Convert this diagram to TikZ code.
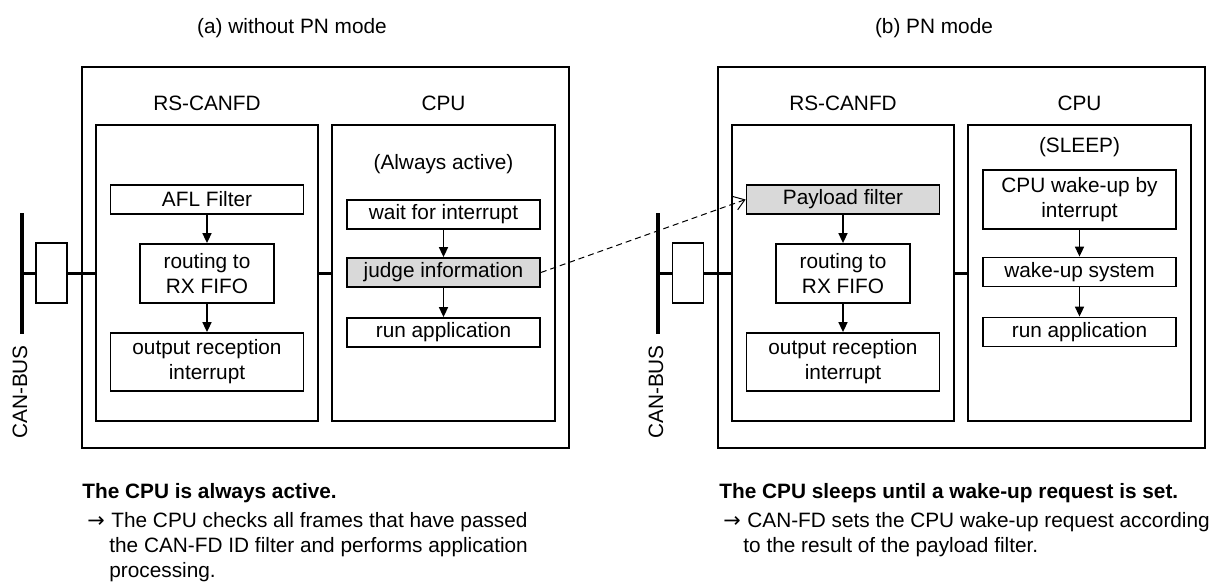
\documentclass[tikz,border=0pt]{standalone}
\usepackage{fontspec}
\setmainfont{Liberation Sans}
\newfontfamily\pnsym{DejaVu Sans}
\usetikzlibrary{arrows.meta}
\definecolor{pnink}{HTML}{000000}
\definecolor{pnshade}{HTML}{D9D9D9}
\newcommand\pnsize{\fontsize{10.4pt}{12.5pt}\selectfont}
\newcommand\pnarrow{{\pnsym →}}
\tikzset{
  frame/.style={rectangle,draw=pnink,line width=0.9pt,inner sep=0pt},
  blk/.style={rectangle,draw=pnink,line width=0.9pt,fill=white,inner sep=0pt,
              align=center,minimum width=96.5pt,minimum height=14.5pt},
  hot/.style={blk,fill=pnshade},
  xcvr/.style={rectangle,draw=pnink,line width=0.9pt,fill=white,
               minimum width=15.5pt,minimum height=30pt,inner sep=0pt},
  flow/.style={-{Triangle[length=5pt,width=4.5pt]},line width=0.8pt,draw=pnink},
  hint/.style={-{Straight Barb[length=5pt,width=7pt]},line width=0.5pt,
               dash pattern=on 3pt off 2pt,draw=pnink},
  bus/.style={line width=2pt,draw=pnink},
  tap/.style={line width=1.5pt,draw=pnink},
}

\begin{document}
\begin{tikzpicture}[x=0.5pt,y=-0.5pt,font=\pnsize,
  note/.style={anchor=north west,align=left,inner sep=0pt,font=\pnsize}]
  \useasboundingbox (0,0) rectangle (1211,585);
  % (a) without PN mode
  \node (titleA) at (292,28) {(a) without PN mode};
  \node[frame,minimum width=243.5pt,minimum height=190.5pt] (panelA) at (325.5,257.5) {};
  \node[frame,minimum width=111pt,minimum height=148pt] (rsA) at (207,273) {};
  \node[frame,minimum width=111.5pt,minimum height=148pt] (cpuA) at (443.5,273) {};
  \node (rsNameA) at (207,103) {RS-CANFD};
  \node (cpuNameA) at (443.5,103) {CPU};
  \node (stateA) at (443.5,164) {(Always active)};
  \node[blk] (aflA) at (207,199.5) {AFL Filter};
  \node[blk,minimum width=67pt,minimum height=29.5pt] (routeA) at (207,273.5) {routing to\\RX FIFO};
  \node[blk,minimum height=29pt] (outA) at (207,362) {output reception\\interrupt};
  \node[blk] (waitA) at (443.5,214.5) {wait for interrupt};
  \node[hot] (judgeA) at (443.5,272.5) {judge information};
  \node[blk] (runA) at (443.5,332.5) {run application};
  \node[xcvr] (xcvrA) at (51.5,273) {};
  \coordinate (busTopA) at (22,213);
  \coordinate (busBotA) at (22,334);
  \coordinate (busA) at (22,273);
  \draw[bus] (busTopA) -- (busBotA);
  \draw[tap] (busA) -- (xcvrA.west) (xcvrA.east) -- (rsA.west);
  \draw[tap] (rsA.east) -- (cpuA.west);
  \node[rotate=90] (busNameA) at (20,392) {CAN-BUS};

  % (b) PN mode
  \node (titleB) at (934,28) {(b) PN mode};
  \node[frame,minimum width=243.5pt,minimum height=190.5pt] (panelB) at (961.5,257.5) {};
  \node[frame,minimum width=111pt,minimum height=148pt] (rsB) at (843,273) {};
  \node[frame,minimum width=111.5pt,minimum height=148pt] (cpuB) at (1079.5,273) {};
  \node (rsNameB) at (843,103) {RS-CANFD};
  \node (cpuNameB) at (1079.5,103) {CPU};
  \node (stateB) at (1079.5,147) {(SLEEP)};
  \node[hot] (payB) at (843,199.5) {Payload filter};
  \node[blk,minimum width=67pt,minimum height=29.5pt] (routeB) at (843,273.5) {routing to\\RX FIFO};
  \node[blk,minimum height=29pt] (outB) at (843,362) {output reception\\interrupt};
  \node[blk,minimum height=29.5pt] (wakeB) at (1079.5,199.5) {CPU wake-up by\\interrupt};
  \node[blk] (sysB) at (1079.5,272) {wake-up system};
  \node[blk] (runB) at (1079.5,332) {run application};
  \node[xcvr] (xcvrB) at (688,273) {};
  \coordinate (busTopB) at (658,213);
  \coordinate (busBotB) at (658,334);
  \coordinate (busB) at (658,273);
  \draw[bus] (busTopB) -- (busBotB);
  \draw[tap] (busB) -- (xcvrB.west) (xcvrB.east) -- (rsB.west);
  \draw[tap] (rsB.east) -- (cpuB.west);
  \node[rotate=90] (busNameB) at (656,392) {CAN-BUS};

  \foreach \from/\to in {aflA/routeA,routeA/outA,waitA/judgeA,judgeA/runA,
                         payB/routeB,routeB/outB,wakeB/sysB,sysB/runB}{
     \draw[flow] (\from) -- (\to);
  }
  \draw[hint] (judgeA.east) -- (payB.west);

  % notes below the panels
  \node[anchor=base west,inner sep=0pt,font=\pnsize\bfseries] (headA) at (82,498) {The CPU is always active.};
  \node[note] (noteA) at (87,512) {\makebox[12pt][l]{\pnarrow}The CPU checks all frames that have passed\\
     \hspace*{11pt}the CAN-FD ID filter and performs application\\
     \hspace*{11pt}processing.};
  \node[anchor=base west,inner sep=0pt,font=\pnsize\bfseries] (headB) at (719,498) {The CPU sleeps until a wake-up request is set.};
  \node[note] (noteB) at (723,512) {\makebox[12pt][l]{\pnarrow}CAN-FD sets the CPU wake-up request according\\
     \hspace*{10pt}to the result of the payload filter.};
\end{tikzpicture}
\end{document}
